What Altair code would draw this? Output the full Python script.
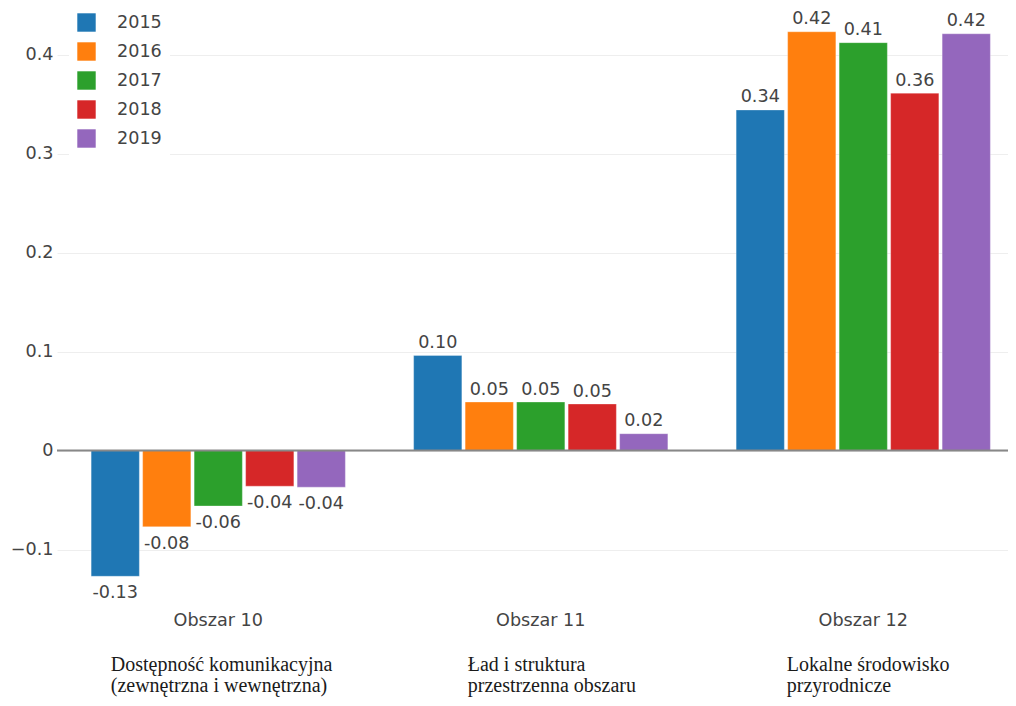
import altair as alt
import pandas as pd

categories = ["Obszar 10", "Obszar 11", "Obszar 12"]
years = ["2015", "2016", "2017", "2018", "2019"]
v2015 = [-0.127, 0.096, 0.344]
v2016 = [-0.077, 0.049, 0.423]
v2017 = [-0.056, 0.049, 0.412]
v2018 = [-0.036, 0.047, 0.361]
v2019 = [-0.037, 0.017, 0.421]
sub_labels = [
    "Dostępność komunikacyjna\n(zewnętrzna i wewnętrzna)",
    "Ład i struktura\nprzestrzenna obszaru",
    "Lokalne środowisko\nprzyrodnicze",
]
colors = ["#1f77b4", "#ff7f0e", "#2ca02c", "#d62728", "#9467bd"]

series = [v2015, v2016, v2017, v2018, v2019]
rows = []
for yr, vals in zip(years, series):
    for cat, v in zip(categories, vals):
        rows.append({"cat": cat, "year": yr, "value": v, "label": f"{v:.2f}"})
df = pd.DataFrame(rows)
subdf = pd.DataFrame({"cat": categories, "sub": sub_labels})

FONT = "DejaVu Sans"
FS = 17.6
TXT = "#444444"

W, H = 951, 573
xscale = alt.Scale(domain=categories, range=[0, 967.5], paddingInner=0, paddingOuter=0)
xoff = alt.Scale(domain=years, paddingInner=0.064, paddingOuter=0.663)
yscale = alt.Scale(domain=[-0.1338, 0.445], nice=False, zero=False)

x_axis = alt.Axis(title=None, labelAngle=0, domain=False, ticks=False, tickSize=0,
                  labelPadding=28, labelFont=FONT, labelFontSize=FS, labelColor=TXT, grid=False)
y_axis = alt.Axis(title=None, values=[-0.1, 0, 0.1, 0.2, 0.3, 0.4], format=".1~f",
                  domain=False, ticks=False, tickSize=0, labelPadding=4,
                  labelFont=FONT, labelFontSize=FS, labelColor=TXT,
                  grid=True, gridColor="#eeeeee", gridWidth=1)

x_enc = alt.X("cat:N", scale=xscale, sort=categories, axis=x_axis)
y_enc = alt.Y("value:Q", scale=yscale, axis=y_axis)

base = alt.Chart(df)

bars = base.mark_bar(stroke="white", strokeWidth=0.6, strokeOpacity=0.5).encode(
    x=x_enc,
    xOffset=alt.XOffset("year:N", scale=xoff, sort=years),
    y=y_enc,
    y2=alt.datum(0),
    color=alt.Color("year:N", sort=years, scale=alt.Scale(domain=years, range=colors),
                    legend=alt.Legend(title=None, orient="none", legendX=12, legendY=-5,
                                      direction="vertical", fillColor="white", padding=8,
                                      symbolType="square", symbolSize=339, symbolStrokeWidth=0,
                                      symbolOpacity=1,
                                      labelFont=FONT, labelFontSize=FS, labelColor=TXT,
                                      labelOffset=21, rowPadding=10)),
)

pos_labels = base.transform_filter("datum.value >= 0").mark_text(
    font=FONT, fontSize=FS, color=TXT, baseline="alphabetic", align="center", dy=-7.5
).encode(
    x=x_enc,
    xOffset=alt.XOffset("year:N", scale=xoff, sort=years),
    y=y_enc,
    text="label:N",
)
neg_labels = base.transform_filter("datum.value < 0").mark_text(
    font=FONT, fontSize=FS, color=TXT, baseline="alphabetic", align="center", dy=22
).encode(
    x=x_enc,
    xOffset=alt.XOffset("year:N", scale=xoff, sort=years),
    y=y_enc,
    text="label:N",
)

zero = alt.Chart(pd.DataFrame({"value": [0]})).mark_rule(color="#888888", strokeWidth=2).encode(
    y=y_enc
)

sub_layers = []
for cat, dx in zip(categories, [-107.5, -73, -76.5]):
    sub_layers.append(
        alt.Chart(subdf).transform_filter(alt.datum.cat == cat).mark_text(
            font="Liberation Serif", fontSize=20, color="#1a1a1a", align="left",
            baseline="alphabetic", lineBreak="\n", lineHeight=21, dx=dx
        ).encode(
            x=x_enc,
            y=alt.value(661),
            text="sub:N",
        )
    )

chart = alt.layer(bars, zero, pos_labels, neg_labels, *sub_layers).properties(
    width=W, height=H,
    background="white",
    autosize=alt.AutoSizeParams(type="none"),
    padding={"left": 49, "top": 2, "right": 0, "bottom": 115},
).configure_view(stroke=None).configure_axis(domain=False, ticks=False)

chart.save("out.html", embed_options={"renderer": "svg", "actions": False})
